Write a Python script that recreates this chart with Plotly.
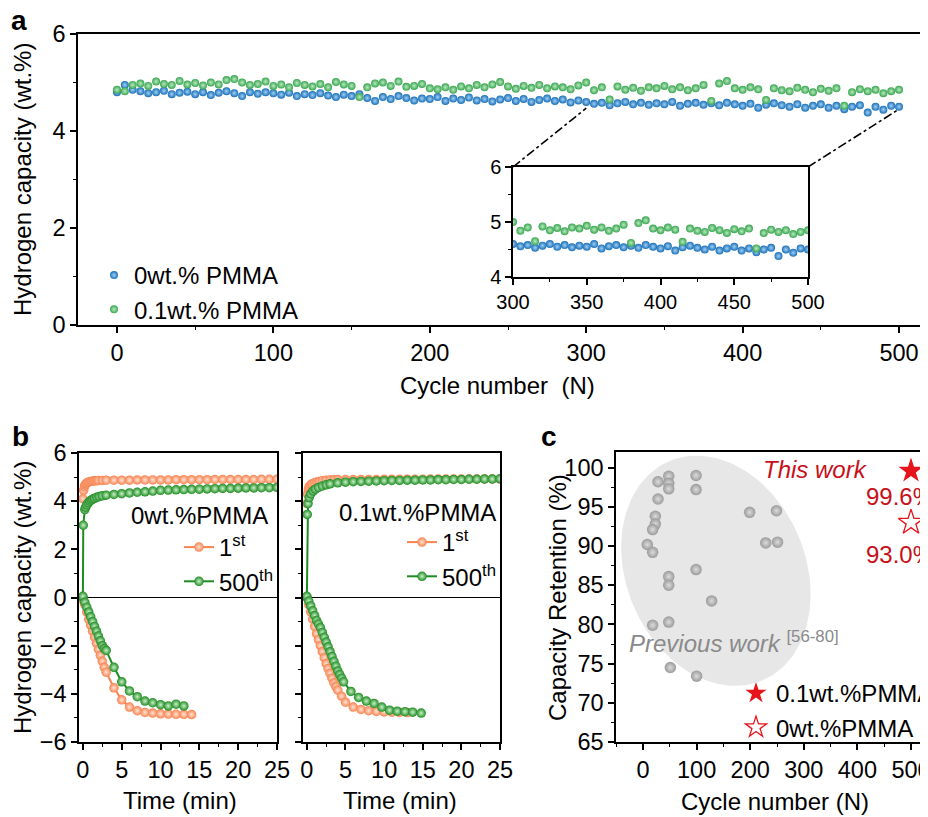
import plotly.graph_objects as go
import numpy as np

# The page body keeps its default 8px margin: the figure is drawn 8px smaller and
# every reference pixel position is shifted by 8px.
OFF = 8
W, H = 928 - OFF, 817 - OFF
FONT = "Liberation Sans, Arial, sans-serif"
FS = 24      # text size
TFS = 23.5   # tick size


def px(x):
    return (x - OFF) / W


def py(y):
    return 1 - (y - OFF) / H


RIGHT = 928  # last visible pixel column

# ---------------- Panel a data ----------------
cycles = list(range(0, 501, 5))
cap_0pmma = [4.80, 4.95, 4.85, 4.82, 4.78, 4.80, 4.83, 4.76, 4.79, 4.81,
             4.76, 4.80, 4.74, 4.79, 4.82, 4.78, 4.72, 4.80, 4.77, 4.80,
             4.78, 4.75, 4.79, 4.72, 4.76, 4.74, 4.78, 4.73, 4.70, 4.75,
             4.72, 4.76, 4.68, 4.62, 4.70, 4.66, 4.72, 4.68, 4.63, 4.67,
             4.66, 4.70, 4.62, 4.67, 4.64, 4.69, 4.63, 4.66, 4.61, 4.65,
             4.68, 4.62, 4.66, 4.60, 4.64, 4.67, 4.62, 4.65, 4.59, 4.63,
             4.60, 4.56, 4.58, 4.53, 4.57, 4.60, 4.55, 4.58, 4.54, 4.57,
             4.55, 4.60, 4.52, 4.56, 4.58, 4.54, 4.57, 4.53, 4.58, 4.55,
             4.52, 4.56, 4.48, 4.54, 4.57, 4.53, 4.50, 4.55, 4.48, 4.52,
             4.55, 4.48, 4.52, 4.45, 4.50, 4.53, 4.38, 4.50, 4.44, 4.52,
             4.50]
cap_01pmma = [4.85, 4.82, 4.95, 4.98, 4.93, 5.02, 4.97, 4.95, 5.03, 4.96,
              4.99, 4.94, 5.00, 4.96, 5.05, 5.07, 5.00, 4.95, 4.97, 5.02,
              4.93, 4.96, 4.90, 4.99, 4.95, 4.92, 4.97, 4.90, 5.01, 4.96,
              4.93, 4.70, 4.90, 4.98, 5.00, 4.93, 5.02, 4.91, 4.93, 4.97,
              4.88, 4.86, 4.90, 4.85, 4.92, 4.88, 4.95, 4.90, 4.96, 5.01,
              4.92, 4.87, 4.93, 4.89, 4.95, 4.88, 4.92, 4.90, 4.86, 4.94,
              5.00, 4.84, 4.90, 4.65, 4.92, 4.85, 4.89, 4.83, 4.90, 4.88,
              4.93, 4.86, 4.90, 4.84, 4.88, 4.95, 4.62, 4.98, 5.03, 4.88,
              4.85, 4.90, 4.86, 4.64, 4.88, 4.84, 4.82, 4.89, 4.85, 4.80,
              4.87, 4.83, 4.88, 4.52, 4.80, 4.86, 4.82, 4.85, 4.78, 4.82,
              4.85]
inset_xlim = [300, 500]
inset_ylim = [4, 6]
zoom_anchor_y = [4.47, 4.45]

# ---------------- Panel b data ----------------
# 0 wt.% PMMA
t_abs_1st_a = [0, 0.1, 0.2, 0.3, 0.4, 0.5, 0.6, 0.8, 1.0, 1.2, 1.4, 1.6, 1.8, 2.0, 2.5,
               3, 4, 5, 6, 7, 8, 9, 10, 11, 12, 13, 14, 15, 16, 17, 18, 19, 20, 21, 22, 23, 24, 25]
h_abs_1st_a = [4.10, 4.45, 4.60, 4.68, 4.72, 4.75, 4.78, 4.80, 4.82, 4.83, 4.84, 4.85, 4.85, 4.86, 4.86,
               4.87, 4.87, 4.87, 4.87, 4.88, 4.88, 4.88, 4.88, 4.88, 4.89, 4.89, 4.89, 4.89, 4.89, 4.90,
               4.90, 4.90, 4.90, 4.90, 4.90, 4.91, 4.91, 4.91]
t_abs_500_a = [0, 0.05, 0.25, 0.35, 0.5, 0.7, 0.9, 1.1, 1.3, 1.5, 1.8, 2.1, 2.5,
               3, 4, 5, 6, 7, 8, 9, 10, 11, 12, 13, 14, 15, 16, 17, 18, 19, 20, 21, 22, 23, 24, 25]
h_abs_500_a = [0, 3.00, 3.65, 3.75, 3.85, 3.93, 4.00, 4.05, 4.09, 4.12, 4.16, 4.19, 4.22,
               4.25, 4.28, 4.31, 4.34, 4.37, 4.39, 4.42, 4.45, 4.46, 4.47, 4.48, 4.49, 4.50,
               4.51, 4.52, 4.53, 4.53, 4.54, 4.55, 4.55, 4.56, 4.56, 4.57]
t_des_1st_a = [0, 0.25, 0.5, 0.75, 1.0, 1.25, 1.5, 1.75, 2.0, 2.25, 2.5, 2.75, 3.0,
               4, 5, 6, 7, 8, 9, 10, 11, 12, 13, 14]
h_des_1st_a = [-0.10, -0.30, -0.60, -0.90, -1.15, -1.40, -1.65, -1.90, -2.15, -2.40, -2.65, -2.90, -3.10,
               -3.75, -4.25, -4.55, -4.70, -4.77, -4.80, -4.83, -4.84, -4.85, -4.85, -4.86]
t_des_500_a = [0, 0.25, 0.5, 0.75, 1.0, 1.25, 1.5, 1.75, 2.0, 2.25, 2.5, 2.75, 3.0,
               4, 5, 6, 7, 8, 9, 10, 11, 12, 13]
h_des_500_a = [0.05, -0.20, -0.40, -0.60, -0.80, -1.00, -1.20, -1.40, -1.60, -1.80, -2.00, -2.12, -2.20,
               -2.90, -3.50, -3.88, -4.12, -4.30, -4.37, -4.45, -4.50, -4.43, -4.50]

# 0.1 wt.% PMMA
t_abs_1st_b = [0, 0.1, 0.2, 0.3, 0.5, 0.7, 1.0, 1.3, 1.6, 2.0, 2.5, 3, 3.5, 4,
               5, 6, 7, 8, 9, 10, 11, 12, 13, 14, 15, 16, 17, 18, 19, 20, 21, 22, 23, 24, 25]
h_abs_1st_b = [3.90, 4.30, 4.50, 4.60, 4.68, 4.72, 4.76, 4.80, 4.82, 4.85, 4.87, 4.88, 4.89, 4.90,
               4.90, 4.90, 4.90, 4.90, 4.90, 4.91, 4.91, 4.91, 4.91, 4.91, 4.91, 4.92, 4.92, 4.92,
               4.92, 4.92, 4.92, 4.92, 4.92, 4.92, 4.92]
t_abs_500_b = [0, 0.05, 0.15, 0.3, 0.5, 0.8, 1.1, 1.5, 2.0, 2.5, 3, 4,
               5, 6, 7, 8, 9, 10, 11, 12, 13, 14, 15, 16, 17, 18, 19, 20, 21, 22, 23, 24, 25]
h_abs_500_b = [0, 3.45, 3.90, 4.15, 4.30, 4.42, 4.50, 4.57, 4.63, 4.68, 4.72, 4.76,
               4.79, 4.81, 4.82, 4.83, 4.84, 4.85, 4.86, 4.86, 4.87, 4.87, 4.88, 4.88, 4.89,
               4.89, 4.90, 4.90, 4.91, 4.91, 4.92, 4.92, 4.93]
t_des_1st_b = [0, 0.25, 0.5, 0.75, 1.0, 1.25, 1.5, 1.75, 2.0, 2.25, 2.5, 2.75, 3.0, 3.25, 3.5, 3.75, 4.0,
               4.5, 5, 6, 7, 8, 9, 10, 11, 12, 13]
h_des_1st_b = [0.0, -0.30, -0.60, -0.90, -1.20, -1.50, -1.75, -2.00, -2.25, -2.50, -2.75, -2.95, -3.15,
               -3.35, -3.55, -3.70, -3.85, -4.10, -4.35, -4.55, -4.65, -4.70, -4.73, -4.75, -4.76,
               -4.77, -4.78]
t_des_500_b = [0, 0.25, 0.5, 0.75, 1.0, 1.25, 1.5, 1.75, 2.0, 2.25, 2.5, 2.75, 3.0, 3.25, 3.5, 3.75,
               4.0, 4.25, 4.5, 4.75, 5.7, 6.7, 7.7, 8.7, 9.7, 10.7, 11.7, 12.7, 13.7, 14.8]
h_des_500_b = [0.05, -0.15, -0.35, -0.55, -0.75, -0.95, -1.10, -1.25, -1.45, -1.65, -1.85, -2.05, -2.25,
               -2.45, -2.65, -2.85, -3.05, -3.20, -3.35, -3.50, -3.90, -4.15, -4.30, -4.40, -4.55,
               -4.68, -4.72, -4.74, -4.76, -4.80]

# ---------------- Panel c data ----------------
prev_cycles = [28, 48, 48, 48, 99, 99, 28, 23, 23, 18, 8, 18, 199, 249, 229, 251,
               48, 48, 99, 128, 18, 48, 51, 100]
prev_retention = [98.2, 98.9, 98.0, 97.3, 99.0, 97.2, 96.0, 93.8, 92.8, 92.1, 90.2, 89.2,
                  94.3, 94.5, 90.4, 90.5, 86.1, 85.0, 87.0, 83.0, 79.9, 80.3, 74.5, 73.4]
this_cycles = [500, 500]
this_retention = [99.6, 93.0]
this_labels = ["0.1wt.%PMMA", "0wt.%PMMA"]

# ---------------- colours ----------------
BLUE = "#1b70b8"
GREEN_A = "#3aa650"
ORANGE = "#f7834f"
GREEN_B = "#1f8c22"
RED = "#e8141b"
DARKRED = "#c8101a"
GRAY = "#9b9b9b"

fig = go.Figure()

# ---- Panel a ----
for name, ys, col, hi in [("0wt.% PMMA", cap_0pmma, BLUE, "#9fd0f5"),
                          ("0.1wt.% PMMA", cap_01pmma, GREEN_A, "#b8eac0")]:
    mk = dict(size=8, color=col, gradient=dict(type="radial", color=hi), line=dict(width=0))
    fig.add_trace(go.Scatter(x=cycles, y=ys, mode="markers", name=name, marker=mk,
                             xaxis="x", yaxis="y", legend="legend"))
    fig.add_trace(go.Scatter(x=[c for c in cycles if c >= inset_xlim[0]],
                             y=[v for c, v in zip(cycles, ys) if c >= inset_xlim[0]],
                             mode="markers", marker=mk, showlegend=False,
                             xaxis="x2", yaxis="y2"))

# ---- Panel b ----
def add_b(t, h, col, hi, xa, ya, name, show, leg):
    fig.add_trace(go.Scatter(x=t, y=h, mode="lines+markers", name=name,
                             line=dict(color=col, width=2),
                             marker=dict(size=9.5, color=col, gradient=dict(type="radial", color=hi),
                                         line=dict(width=0)),
                             showlegend=show, legendgroup=name + leg, xaxis=xa, yaxis=ya, legend=leg))

add_b(t_abs_1st_a, h_abs_1st_a, ORANGE, "#ffe3d6", "x3", "y3", "1<sup>st</sup>", True, "legend2")
add_b(t_des_1st_a, h_des_1st_a, ORANGE, "#ffe3d6", "x3", "y3", "1<sup>st</sup>", False, "legend2")
add_b(t_abs_500_a, h_abs_500_a, GREEN_B, "#c9f0c9", "x3", "y3", "500<sup>th</sup>", True, "legend2")
add_b(t_des_500_a, h_des_500_a, GREEN_B, "#c9f0c9", "x3", "y3", "500<sup>th</sup>", False, "legend2")

add_b(t_abs_1st_b, h_abs_1st_b, ORANGE, "#ffe3d6", "x4", "y4", "1<sup>st</sup>", True, "legend3")
add_b(t_des_1st_b, h_des_1st_b, ORANGE, "#ffe3d6", "x4", "y4", "1<sup>st</sup>", False, "legend3")
add_b(t_abs_500_b, h_abs_500_b, GREEN_B, "#c9f0c9", "x4", "y4", "500<sup>th</sup>", True, "legend3")
add_b(t_des_500_b, h_des_500_b, GREEN_B, "#c9f0c9", "x4", "y4", "500<sup>th</sup>", False, "legend3")

# ---- Panel c ----
tt = np.linspace(0, 2 * np.pi, 200)
ell_x = 136 + 176.7 * np.cos(tt)
ell_y = 86.85 - 2.99 * np.cos(tt) - 14.38 * np.sin(tt)
fig.add_trace(go.Scatter(x=ell_x, y=ell_y, mode="lines", fill="toself", fillcolor="#e7e7e7",
                         line=dict(width=0), hoverinfo="skip", showlegend=False,
                         xaxis="x5", yaxis="y5"))
fig.add_trace(go.Scatter(x=prev_cycles, y=prev_retention, mode="markers", showlegend=False,
                         marker=dict(size=11.5, color=GRAY, gradient=dict(type="radial", color="#dcdcdc"),
                                     line=dict(width=0)),
                         xaxis="x5", yaxis="y5"))
fig.add_trace(go.Scatter(x=[this_cycles[0]], y=[this_retention[0]], mode="markers", name=this_labels[0],
                         marker=dict(symbol="star", size=19, color=RED, line=dict(width=0)),
                         xaxis="x5", yaxis="y5", legend="legend4"))
fig.add_trace(go.Scatter(x=[this_cycles[1]], y=[this_retention[1]], mode="markers", name=this_labels[1],
                         marker=dict(symbol="star-open", size=19, color=RED, line=dict(width=1.3, color=RED)),
                         xaxis="x5", yaxis="y5", legend="legend4"))

# ---------------- axes ----------------
def ax(**kw):
    d = dict(showline=True, linecolor="black", linewidth=1.5, ticks="outside", ticklen=6,
             tickwidth=1.5, tickcolor="black", showgrid=False, zeroline=False, automargin=False,
             ticklabeloverflow="allow",
             tickfont=dict(size=TFS, family=FONT, color="black"))
    d.update(kw)
    return d

minor = lambda d: dict(ticks="outside", ticklen=3.5, tickwidth=1.3, tickcolor="black", dtick=d,
                       showgrid=False)

# main-axis ranges chosen so the tick positions match the reference pixel positions
A_PX0, A_PX500 = 117, 899          # pixel columns of cycles 0 and 500 in panel a
a_scale = (A_PX500 - A_PX0) / 500
A_RANGE = [(78 - A_PX0) / a_scale, (RIGHT - A_PX0) / a_scale]
C_PX0, C_PX500 = 643, 911          # pixel columns of cycles 0 and 500 in panel c
c_scale = (C_PX500 - C_PX0) / 500
C_RANGE = [(616 - C_PX0) / c_scale, (RIGHT - C_PX0) / c_scale]

IFS = 20
layout = dict(
    template="none",
    width=W, height=H, margin=dict(l=0, r=0, t=0, b=0, pad=0, autoexpand=False),
    paper_bgcolor="white", plot_bgcolor="rgba(0,0,0,0)",
    font=dict(family=FONT, size=FS, color="black"),
    showlegend=True,
    xaxis=ax(domain=[px(78), 1], range=A_RANGE, dtick=100, tick0=0, minor=minor(50),
             mirror=True, anchor="y"),
    yaxis=ax(domain=[py(325), py(34)], range=[0, 6], dtick=2, minor=minor(1), anchor="x"),
    xaxis2=ax(domain=[px(513), px(808)], range=inset_xlim, dtick=50, minor=minor(25),
              mirror=True, anchor="y2", tickfont=dict(size=IFS, family=FONT, color="black")),
    yaxis2=ax(domain=[py(277), py(167)], range=inset_ylim, dtick=1, minor=minor(0.5),
              mirror=True, anchor="x2", tickfont=dict(size=IFS, family=FONT, color="black")),
    xaxis3=ax(domain=[px(79), px(277)], range=[-0.5, 25], dtick=5, minor=minor(2.5),
              mirror=True, anchor="y3"),
    yaxis3=ax(domain=[py(742), py(453)], range=[-6, 6], dtick=2, minor=minor(1), mirror=True,
              anchor="x3", zeroline=True, zerolinecolor="black", zerolinewidth=1.2),
    xaxis4=ax(domain=[px(303), px(500)], range=[-0.5, 25], dtick=5, minor=minor(2.5),
              mirror=True, anchor="y4"),
    yaxis4=ax(domain=[py(742), py(453)], range=[-6, 6], dtick=2, minor=minor(1), mirror=True,
              anchor="x4", showticklabels=False, zeroline=True, zerolinecolor="black",
              zerolinewidth=1.2),
    xaxis5=ax(domain=[px(616), 1], range=C_RANGE, dtick=100, tick0=0, minor=minor(50),
              mirror=True, anchor="y5"),
    yaxis5=ax(domain=[py(742), py(452)], range=[65, 102], dtick=5, tick0=65, minor=minor(2.5),
              anchor="x5"),
    legend=dict(x=px(94), y=py(253), xanchor="left", yanchor="top", bgcolor="rgba(0,0,0,0)",
                font=dict(size=FS, family=FONT), tracegroupgap=0, itemsizing="trace"),
    legend2=dict(x=px(179), y=py(525), xanchor="left", yanchor="top", bgcolor="rgba(0,0,0,0)",
                 font=dict(size=FS, family=FONT), tracegroupgap=0),
    legend3=dict(x=px(402), y=py(520), xanchor="left", yanchor="top", bgcolor="rgba(0,0,0,0)",
                 font=dict(size=FS, family=FONT), tracegroupgap=0),
    legend4=dict(x=px(736), y=py(671), xanchor="left", yanchor="top", bgcolor="rgba(0,0,0,0)",
                 font=dict(size=FS, family=FONT), tracegroupgap=0),
)
fig.update_layout(**layout)

# connector dash-dot lines from inset corners to main data region
def to_main_x(pxv):
    return (pxv - A_PX0) / a_scale

def to_main_y(pyv):
    return (325 - pyv) / (325 - 34) * 6

for xi, yd, pxc in [(inset_xlim[0], zoom_anchor_y[0], 513), (inset_xlim[1], zoom_anchor_y[1], 808)]:
    fig.add_shape(type="line", xref="x", yref="y", x0=to_main_x(pxc), y0=to_main_y(167),
                  x1=xi, y1=yd, line=dict(color="black", width=1.6, dash="dashdot"))

ann = []
def T(x, y, text, size=FS, xanchor="center", **kw):
    d = dict(x=px(x), y=py(y), xref="paper", yref="paper", text=text, showarrow=False,
             xanchor=xanchor, yanchor="middle",
             font=dict(size=size, family=FONT, color=kw.pop("color", "black")))
    d.update(kw)
    ann.append(d)

T(19, 21, "<b>a</b>", size=28)
T(20, 436, "<b>b</b>", size=28)
T(549, 437, "<b>c</b>", size=28)
T(497, 385, "Cycle number  (N)")
T(22, 180, "Hydrogen capacity (wt.%)", textangle=-90)
T(22, 598, "Hydrogen capacity (wt.%)", textangle=-90)
T(180, 800, "Time (min)")
T(400, 800, "Time (min)")
T(775, 801, "Cycle number (N)")
T(557, 598, "Capacity Retention (%)", textangle=-90)
T(270, 515, "0wt.%PMMA", xanchor="right")
T(498, 512, "0.1wt.%PMMA", xanchor="right")
T(870, 469, "<i>This work</i>", color=DARKRED, xanchor="right")
T(864, 497, "99.6%", color=DARKRED, xanchor="left")
T(864, 554, "93.0%", color=DARKRED, xanchor="left")
T(627, 642, "<i>Previous work</i> <sup>[56-80]</sup>", color="#8a8a8a", xanchor="left")
fig.update_layout(annotations=ann)

fig.write_html("out.html")
